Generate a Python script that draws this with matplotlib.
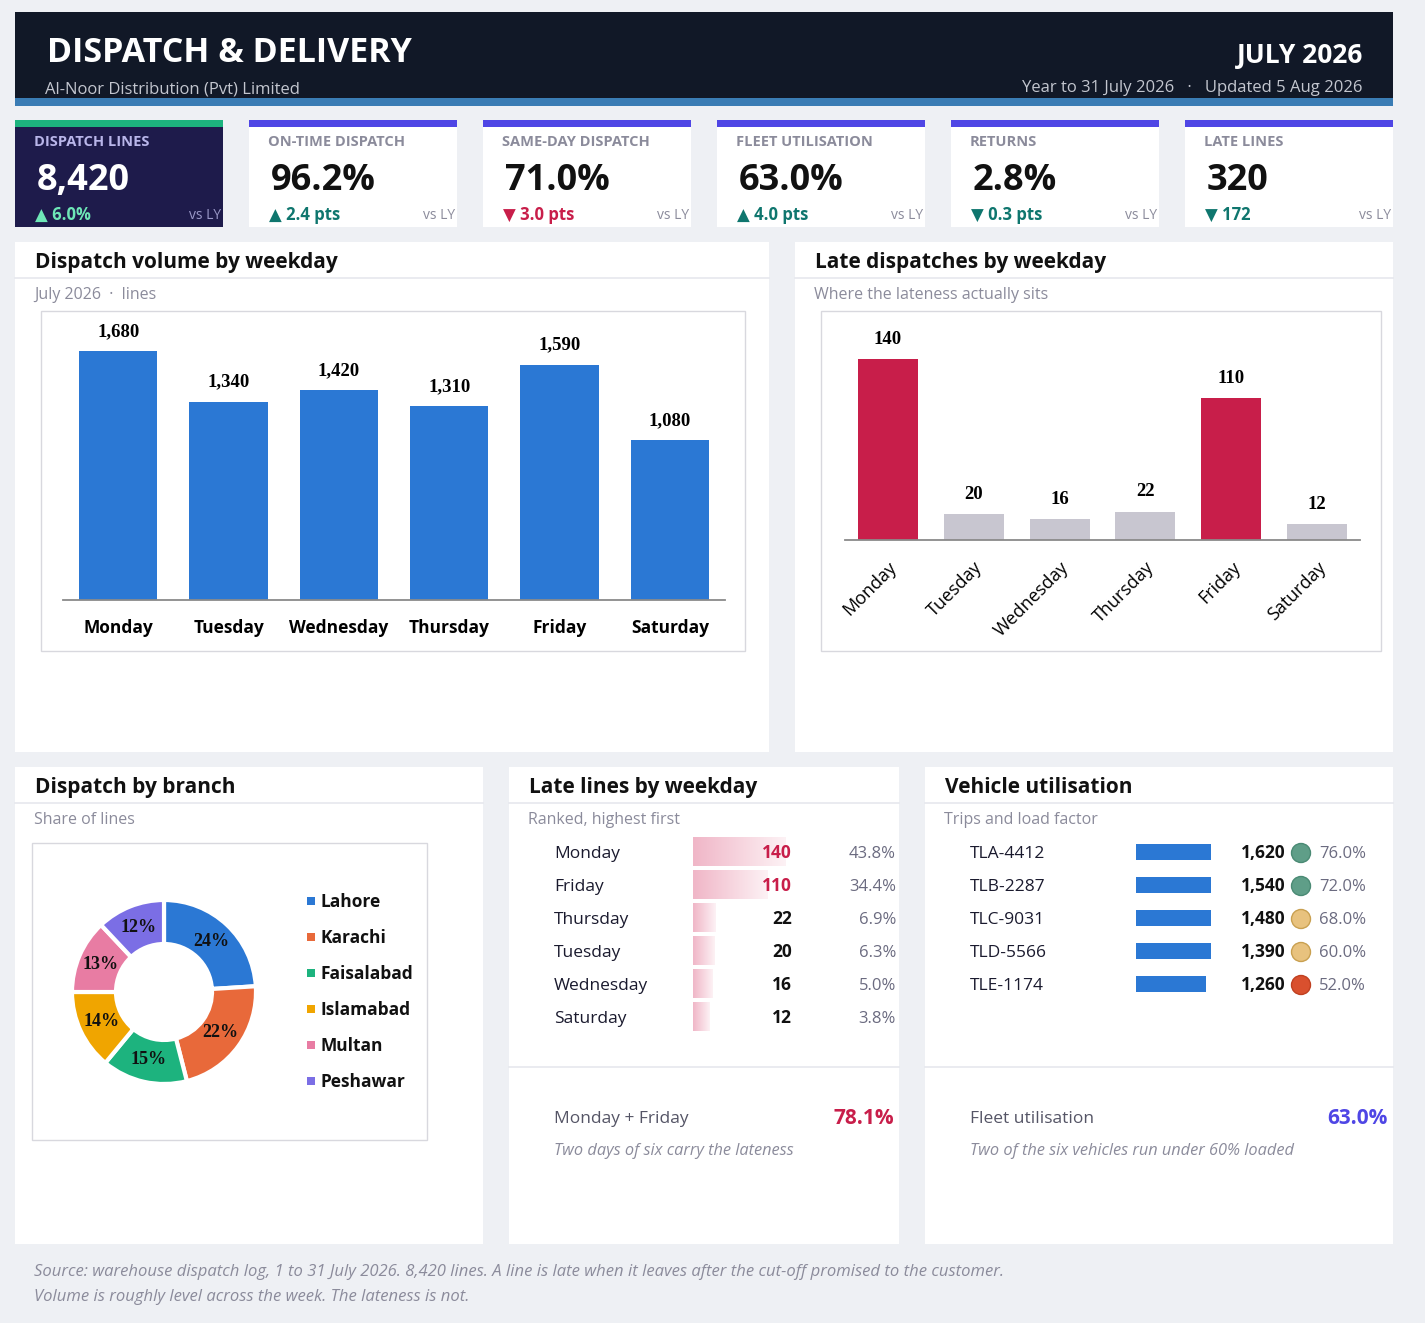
import matplotlib
matplotlib.use("Agg")
import matplotlib.pyplot as plt
from matplotlib.patches import Rectangle, Circle
from matplotlib.colors import LinearSegmentedColormap
import numpy as np

W, H = 1425, 1323
plt.rcParams['font.family'] = ['Open Sans', 'DejaVu Sans']
SERIF = ['Liberation Serif', 'DejaVu Serif']

# ---- data ----
kpi_labels = ["DISPATCH LINES", "ON-TIME DISPATCH", "SAME-DAY DISPATCH",
              "FLEET UTILISATION", "RETURNS", "LATE LINES"]
kpi_values = ["8,420", "96.2%", "71.0%", "63.0%", "2.8%", "320"]
kpi_deltas = ["▲ 6.0%", "▲ 2.4 pts", "▼ 3.0 pts", "▲ 4.0 pts", "▼ 0.3 pts", "▼ 172"]
kpi_good = [True, True, False, True, True, True]

weekdays = ["Monday", "Tuesday", "Wednesday", "Thursday", "Friday", "Saturday"]
volume = [1680, 1340, 1420, 1310, 1590, 1080]
late = [140, 20, 16, 22, 110, 12]

branches = ["Lahore", "Karachi", "Faisalabad", "Islamabad", "Multan", "Peshawar"]
branch_share = [24, 22, 15, 14, 13, 12]
branch_colors = ["#2b78d4", "#e8693a", "#1db37e", "#f0a500", "#e87ca3", "#7b6ee5"]

ranked_days = ["Monday", "Friday", "Thursday", "Tuesday", "Wednesday", "Saturday"]
ranked_late = [140, 110, 22, 20, 16, 12]
ranked_pct = ["43.8%", "34.4%", "6.9%", "6.3%", "5.0%", "3.8%"]

vehicles = ["TLA-4412", "TLB-2287", "TLC-9031", "TLD-5566", "TLE-1174"]
trips = [1620, 1540, 1480, 1390, 1260]
load = [76.0, 72.0, 68.0, 60.0, 52.0]

NAVY = "#111827"
CRIMSON = "#c81e4a"
PURPLE = "#4f46e5"
TEAL = "#0f766e"
GREY = "#8b8b9b"
INK = "#111111"

fig = plt.figure(figsize=(W / 100, H / 100), dpi=100)
fig.patch.set_facecolor("#eef0f4")
bg = fig.add_axes([0, 0, 1, 1])
bg.set_xlim(0, W)
bg.set_ylim(H, 0)
bg.axis("off")


def rect(x0, y0, x1, y1, color, ec="none", lw=0):
    bg.add_patch(Rectangle((x0, y0), x1 - x0, y1 - y0, facecolor=color,
                           edgecolor=ec, linewidth=lw))


# figure-level text so it sits on top of every axes
def txt(x, y, s, size, color=INK, weight="normal", ha="left", va="baseline",
        style="normal", family=None):
    kw = {}
    if family:
        kw["family"] = family
    fig.text(x / W, 1 - y / H, s, fontsize=size, color=color, fontweight=weight,
             ha=ha, va=va, fontstyle=style, **kw)


def axes_px(x0, y0, x1, y1):
    return fig.add_axes([x0 / W, 1 - y1 / H, (x1 - x0) / W, (y1 - y0) / H])


# ---- header ----
rect(15, 12, 1393, 98, NAVY)
rect(15, 98, 1393, 106, "#3a7cb4")
txt(47, 62, "DISPATCH & DELIVERY", 24.5, "white", "bold")
txt(45, 94, "Al-Noor Distribution (Pvt) Limited", 12, "#c3c6cf")
txt(1363, 63, "JULY 2026", 19, "white", "bold", ha="right")
txt(1363, 92, "Year to 31 July 2026   ·   Updated 5 Aug 2026", 12, "#c3c6cf", ha="right")

# ---- KPI cards ----
for i in range(6):
    x = 15 + i * 234
    first = i == 0
    rect(x, 127, x + 208, 227, "#1e1b4b" if first else "white")
    rect(x, 120, x + 208, 127, "#1db37e" if first else PURPLE)
    txt(x + 19, 146, kpi_labels[i], 10.5, "#b9b6ea" if first else GREY, "bold")
    txt(x + 22, 190, kpi_values[i], 26, "white" if first else INK, "bold")
    if first:
        dcol = "#6ee7b7"
    else:
        dcol = TEAL if kpi_good[i] else CRIMSON
    txt(x + 20, 220, kpi_deltas[i], 12, dcol, "bold")
    txt(x + 206, 219, "vs LY", 10, "#9a98c8" if first else GREY, ha="right")


def panel(x0, y0, x1, y1, title, sub, tx, sep):
    rect(x0, y0, x1, y1, "white")
    txt(tx, y0 + 26, title, 15, INK, "bold")
    bg.plot([x0, x1], [sep, sep], color="#e6e8ee", lw=1.2)
    txt(tx - 1, y0 + 57, sub, 11.5, GREY)


panel(15, 242, 769, 752, "Dispatch volume by weekday", "July 2026  ·  lines", 35, 278)
panel(795, 242, 1393, 752, "Late dispatches by weekday", "Where the lateness actually sits", 815, 278)
panel(15, 767, 483, 1244, "Dispatch by branch", "Share of lines", 35, 803)
panel(509, 767, 899, 1244, "Late lines by weekday", "Ranked, highest first", 529, 803)
panel(925, 767, 1393, 1244, "Vehicle utilisation", "Trips and load factor", 945, 803)

# chart boxes
rect(41, 311, 745, 651, "white", ec="#d8d8de", lw=1)
rect(821, 311, 1381, 651, "white", ec="#d8d8de", lw=1)
rect(32, 843, 427, 1140, "white", ec="#d8d8de", lw=1)


def style_bar_axes(ax):
    for s in ["top", "right", "left"]:
        ax.spines[s].set_visible(False)
    ax.spines["bottom"].set_color("#8a8a8a")
    ax.spines["bottom"].set_linewidth(1.3)
    ax.set_yticks([])
    ax.set_facecolor("none")
    ax.tick_params(axis="x", length=0)


# ---- chart 1: volume ----
ax1 = axes_px(63, 311, 725, 600)
x = np.arange(len(weekdays))
ax1.bar(x, volume, width=0.71, color="#2b78d4")
ax1.set_xlim(-0.5, 5.5)
ax1.set_ylim(0, 1953)
style_bar_axes(ax1)
ax1.set_xticks(x)
ax1.set_xticklabels(weekdays, fontsize=12.5, fontweight="bold")
ax1.tick_params(axis="x", pad=14)
for xi, v in zip(x, volume):
    ax1.annotate(f"{v:,}", (xi, v), xytext=(0, 8), textcoords="offset points",
                 ha="center", va="bottom", fontsize=13.5, fontweight="bold",
                 family=SERIF)

# ---- chart 2: late ----
ax2 = axes_px(845, 311, 1360, 540)
late_cols = [CRIMSON if v > 50 else "#c8c6d0" for v in late]
ax2.bar(x, late, width=0.7, color=late_cols)
ax2.set_xlim(-0.5, 5.5)
ax2.set_ylim(0, 177)
style_bar_axes(ax2)
ax2.set_xticks(x)
ax2.set_xticklabels(weekdays, fontsize=13, rotation=45, ha="right",
                    rotation_mode="anchor")
ax2.tick_params(axis="x", pad=13)
for xi, v in zip(x, late):
    ax2.annotate(f"{v}", (xi, v), xytext=(0, 8), textcoords="offset points",
                 ha="center", va="bottom", fontsize=13.5, fontweight="bold",
                 family=SERIF)

# ---- donut ----
ax3 = axes_px(64, 892, 264, 1092)
wedges, _, autot = ax3.pie(branch_share, colors=branch_colors, radius=0.92,
                           startangle=90, counterclock=False,
                           autopct=lambda p: f"{p:.0f}%", pctdistance=0.75,
                           wedgeprops=dict(width=0.44, edgecolor="white", linewidth=3))
for t in autot:
    t.set_fontsize(13)
    t.set_fontweight("bold")
    t.set_family(SERIF)
    t.set_color(INK)
ax3.set_xlim(-1, 1)
ax3.set_ylim(-1, 1)
ax3.set_aspect("equal")
for i, (name, col) in enumerate(zip(branches, branch_colors)):
    y = 901 + 36 * i
    rect(307, y - 4, 315, y + 4, col)
    txt(321, y + 6, name, 12.5, INK, "bold")

# ---- late lines table ----
pink = LinearSegmentedColormap.from_list("pk", ["#f0b6c7", "#fdf2f5"])
ax4 = axes_px(693, 835.5, 800, 1033.5)
ax4.axis("off")
base = -17
grad = np.linspace(0, 1, 256).reshape(1, -1)
for i, v in enumerate(ranked_late):
    ax4.imshow(grad, cmap=pink, aspect="auto",
               extent=[base, v, i + 0.43, i - 0.43], interpolation="bilinear")
ax4.set_xlim(base, base + 107 / 0.586)
ax4.set_ylim(5.5, -0.5)
for i, (d, v, p) in enumerate(zip(ranked_days, ranked_late, ranked_pct)):
    y = 858 + 33 * i
    txt(554, y, d, 12.5, "#1a1a2e")
    txt(792, y, f"{v}", 12.5, CRIMSON if v > 50 else INK, "bold", ha="right")
    txt(896, y, p, 12, "#6b6b80", ha="right")

bg.plot([509, 899], [1067, 1067], color="#e6e8ee", lw=1.2)
txt(554, 1123, "Monday + Friday", 12.5, "#555566")
txt(894, 1124, "78.1%", 15, CRIMSON, "bold", ha="right")
txt(554, 1155, "Two days of six carry the lateness", 11.8, GREY, style="italic")

# ---- vehicle table ----
ax5 = axes_px(1136, 835.5, 1211, 1000.5)
ax5.barh(np.arange(len(vehicles)), trips, height=0.5, color="#2b78d4")
ax5.set_xlim(0, 1350)
ax5.set_ylim(4.5, -0.5)
ax5.axis("off")
for i, (nm, t, l) in enumerate(zip(vehicles, trips, load)):
    y = 858 + 33 * i
    txt(970, y, nm, 12.5, "#1a1a2e")
    txt(1286, y, f"{t:,}", 12.5, INK, "bold", ha="right")
    if l >= 70:
        fc, ec = "#5f9e88", "#4a8a74"
    elif l >= 55:
        fc, ec = "#e8c27e", "#c9a050"
    else:
        fc, ec = "#d9502e", "#c04020"
    bg.add_patch(Circle((1301, y - 5), 9.5, facecolor=fc, edgecolor=ec, lw=1))
    txt(1319, y, f"{l:.1f}%", 12, "#6b6b80")

bg.plot([925, 1393], [1067, 1067], color="#e6e8ee", lw=1.2)
txt(970, 1123, "Fleet utilisation", 12.5, "#555566")
txt(1388, 1124, "63.0%", 15, PURPLE, "bold", ha="right")
txt(970, 1155, "Two of the six vehicles run under 60% loaded", 11.8, GREY, style="italic")

# ---- footer ----
txt(34, 1276, "Source: warehouse dispatch log, 1 to 31 July 2026. 8,420 lines. "
    "A line is late when it leaves after the cut-off promised to the customer.",
    12, GREY, style="italic")
txt(34, 1301, "Volume is roughly level across the week. The lateness is not.",
    12, GREY, style="italic")

fig.savefig("out.png", dpi=100, facecolor=fig.get_facecolor())
